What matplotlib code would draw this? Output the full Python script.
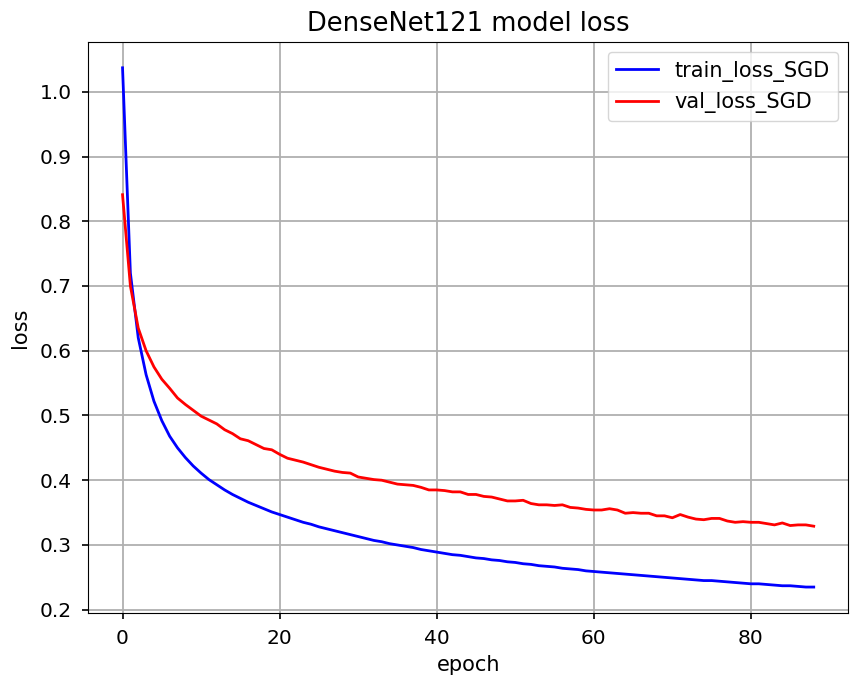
import numpy as np
import matplotlib
matplotlib.use('Agg')
import matplotlib.pyplot as plt

# valores
train_loss = [1.037, 0.720, 0.620, 0.563, 0.522, 0.492, 0.468, 0.450, 0.435, 0.422,
              0.411, 0.401, 0.393, 0.385, 0.378, 0.372, 0.366, 0.361, 0.356, 0.351,
              0.347, 0.343, 0.339, 0.335, 0.332, 0.328, 0.325, 0.322, 0.319, 0.316,
              0.313, 0.310, 0.307, 0.305, 0.302, 0.300, 0.298, 0.296, 0.293, 0.291,
              0.289, 0.287, 0.285, 0.284, 0.282, 0.280, 0.279, 0.277, 0.276, 0.274,
              0.273, 0.271, 0.270, 0.268, 0.267, 0.266, 0.264, 0.263, 0.262, 0.260,
              0.259, 0.258, 0.257, 0.256, 0.255, 0.254, 0.253, 0.252, 0.251, 0.250,
              0.249, 0.248, 0.247, 0.246, 0.245, 0.245, 0.244, 0.243, 0.242, 0.241,
              0.240, 0.240, 0.239, 0.238, 0.237, 0.237, 0.236, 0.235, 0.235]
val_loss = [0.841, 0.700, 0.635, 0.600, 0.575, 0.556, 0.542, 0.527, 0.517, 0.508,
            0.499, 0.493, 0.487, 0.478, 0.472, 0.464, 0.461, 0.455, 0.449, 0.447,
            0.440, 0.434, 0.431, 0.428, 0.424, 0.420, 0.417, 0.414, 0.412, 0.411,
            0.405, 0.403, 0.401, 0.400, 0.397, 0.394, 0.393, 0.392, 0.389, 0.385,
            0.385, 0.384, 0.382, 0.382, 0.378, 0.378, 0.375, 0.374, 0.371, 0.368,
            0.368, 0.369, 0.364, 0.362, 0.362, 0.361, 0.362, 0.358, 0.357, 0.355,
            0.354, 0.354, 0.356, 0.354, 0.349, 0.350, 0.349, 0.349, 0.345, 0.345,
            0.342, 0.347, 0.343, 0.340, 0.339, 0.341, 0.341, 0.337, 0.335, 0.336,
            0.335, 0.335, 0.333, 0.331, 0.334, 0.330, 0.331, 0.331, 0.329]
epochs = np.arange(len(train_loss))

plt.rcParams['font.size'] = 15

fig = plt.figure(figsize=(8.5, 6.86), dpi=100)
ax = fig.add_axes([0.1035, 0.1064, 0.8945, 0.8326])
ax.plot(epochs, train_loss, color='blue', linewidth=2.0, label='train_loss_SGD')
ax.plot(epochs, val_loss, color='red', linewidth=2.0, label='val_loss_SGD')
ax.set_title('DenseNet121 model loss', fontsize=18.5, pad=8)
ax.set_xlabel('epoch', labelpad=5)
ax.set_ylabel('loss', labelpad=7)
ax.tick_params(length=4.5, width=1.2, pad=7, labelsize=14.5)
ax.grid(True, color='#b0b0b0', linewidth=1.3)
ax.legend(loc='upper right')
fig.savefig('out.png', dpi=100)
